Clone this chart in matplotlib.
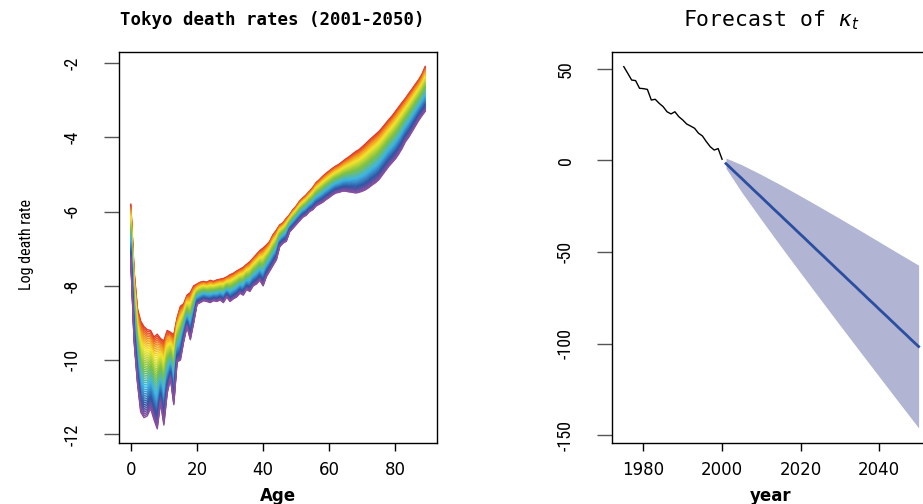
import numpy as np
import matplotlib
matplotlib.use("Agg")
from matplotlib import pyplot as plt
from matplotlib import font_manager
from matplotlib.colors import LinearSegmentedColormap

plt.rcParams["axes.unicode_minus"] = False

# Log death rates: top curve (2001) and bottom curve (2050)
ages = np.arange(0, 90)
rate_2001 = [-5.80, -7.60, -8.60, -8.95, -9.10, -9.18, -9.20, -9.38, -9.30, -9.42,
             -9.48, -9.20, -9.25, -9.32, -8.86, -8.55, -8.48, -8.25, -8.18, -8.00,
             -7.95, -7.90, -7.88, -7.90, -7.85, -7.88, -7.84, -7.82, -7.80, -7.76,
             -7.70, -7.66, -7.60, -7.55, -7.50, -7.42, -7.35, -7.25, -7.15, -7.05,
             -6.98, -6.90, -6.80, -6.62, -6.50, -6.36, -6.30, -6.18, -6.08, -5.95,
             -5.85, -5.72, -5.63, -5.55, -5.45, -5.35, -5.22, -5.14, -5.05, -4.97,
             -4.90, -4.83, -4.77, -4.72, -4.65, -4.58, -4.52, -4.45, -4.38, -4.33,
             -4.25, -4.17, -4.08, -4.00, -3.92, -3.84, -3.74, -3.63, -3.52, -3.42,
             -3.30, -3.18, -3.06, -2.95, -2.82, -2.70, -2.57, -2.45, -2.30, -2.09]
rate_2050 = [-7.30, -9.50, -10.60, -11.40, -11.55, -11.50, -11.30, -11.60, -11.85, -11.15,
             -11.75, -10.90, -10.50, -11.20, -10.05, -10.00, -9.50, -9.10, -9.45, -9.00,
             -8.50, -8.45, -8.40, -8.42, -8.45, -8.40, -8.42, -8.38, -8.45, -8.30,
             -8.42, -8.35, -8.30, -8.20, -8.25, -8.10, -8.15, -8.00, -7.95, -7.85,
             -8.00, -7.75, -7.60, -7.45, -7.30, -6.95, -6.85, -6.80, -6.55, -6.45,
             -6.35, -6.25, -6.15, -6.10, -6.00, -5.95, -5.85, -5.80, -5.75, -5.68,
             -5.62, -5.55, -5.50, -5.48, -5.45, -5.45, -5.47, -5.48, -5.50, -5.48,
             -5.45, -5.41, -5.35, -5.28, -5.22, -5.14, -5.02, -4.90, -4.78, -4.68,
             -4.58, -4.45, -4.30, -4.12, -4.00, -3.85, -3.70, -3.55, -3.42, -3.30]

# Observed kappa_t
hist_years = np.arange(1975, 2001)
hist_kt = [51.1, 47.5, 43.8, 43.5, 39.3, 39.1, 38.7, 32.9, 33.3, 31.1,
           29.3, 26.5, 25.3, 26.5, 23.8, 22.0, 19.8, 18.7, 17.5, 14.8,
           13.3, 10.2, 7.4, 5.6, 6.4, 0.6]

# Forecast kappa_t (point forecast)
fc_years = np.arange(2001, 2051)
fc_kt = [-1.8, -3.8, -5.9, -7.9, -9.9, -12.0, -14.0, -16.1, -18.1, -20.1,
         -22.2, -24.2, -26.3, -28.3, -30.3, -32.4, -34.4, -36.4, -38.5, -40.5,
         -42.5, -44.6, -46.6, -48.7, -50.7, -52.7, -54.8, -56.8, -58.9, -60.9,
         -62.9, -65.0, -67.0, -69.0, -71.1, -73.1, -75.2, -77.2, -79.2, -81.3,
         -83.3, -85.3, -87.4, -89.4, -91.5, -93.5, -95.5, -97.6, -99.6, -101.6]

# Prediction interval
band_years = [2001, 2005, 2010, 2015, 2020, 2025, 2030, 2035, 2040, 2045, 2050]
band_upper = [1.2, -2.4, -7.8, -13.5, -19.5, -25.6, -31.8, -38.1, -44.5, -50.9, -57.2]
band_lower = [-4.4, -17.4, -32.4, -47.1, -61.5, -75.8, -90.0, -104.1, -118.1, -132.1, -146.0]

# Lee-Carter pieces: log m(x,t) = a_x + b_x * k_t
top = np.array(rate_2001)
bot = np.array(rate_2050)
bx = (top - bot) / (fc_kt[0] - fc_kt[-1])
ax_ = top - bx * fc_kt[0]

rainbow = LinearSegmentedColormap.from_list(
    "rb",
    [(0.0, "#E4312B"), (0.12, "#F29A1F"), (0.24, "#F4E52C"), (0.45, "#7CC143"),
     (0.66, "#3CB5E5"), (0.86, "#2F54A3"), (1.0, "#8A4E9F")],
)

# pick a condensed face if one is installed
installed = {f.name for f in font_manager.fontManager.ttflist}
narrow = "DejaVu Sans"
tick_size, label_size = 10, 10
for name in ["Liberation Sans Narrow", "DejaVu Sans Condensed", "Roboto Condensed",
             "Open Sans Condensed", "Roboto"]:
    if name in installed:
        narrow = name
        tick_size, label_size = (13, 11.5) if name != "Roboto" else (11, 11)
        break

fig = plt.figure(figsize=(9.23, 5.04), dpi=100)
W, H = 923, 504


def box(l, t, r, b):
    return [l / W, 1 - b / H, (r - l) / W, (b - t) / H]


def style(ax):
    for s in ax.spines.values():
        s.set_linewidth(1.0)
        s.set_color("black")
    ax.tick_params(axis="x", length=6, width=1, direction="out", pad=7,
                   labelsize=12, color="black")
    ax.tick_params(axis="y", length=11, width=1, direction="out", pad=16,
                   labelsize=tick_size, color="#555555", labelrotation=90)
    for lab in ax.get_yticklabels():
        lab.set_family(narrow)
        lab.set_va("center")


# Left panel: rainbow of forecast death rates
ax1 = fig.add_axes(box(119, 52, 437, 443.3))
n = len(fc_kt)
for i, k in enumerate(fc_kt):
    ax1.plot(ages, ax_ + bx * k, color=rainbow(i / (n - 1)), lw=1.0)
ax1.set_xlim(-3.56, 92.56)
ax1.set_ylim(-12.24, -1.70)
ax1.set_xticks([0, 20, 40, 60, 80])
ax1.set_yticks([-12, -10, -8, -6, -4, -2])
style(ax1)

# Right panel: kappa forecast (extends past the right edge)
ax2 = fig.add_axes(box(612, 52, 930.4, 443.3))
ax2.fill_between(band_years, band_lower, band_upper, color="#B1B4D2", lw=0)
ax2.plot(hist_years, hist_kt, color="black", lw=1.0)
ax2.plot(fc_years, fc_kt, color="#2B4EA0", lw=2.0)
ax2.set_xlim(1972, 2053)
ax2.set_ylim(-154.4, 59.1)
ax2.set_xticks([1980, 2000, 2020, 2040])
ax2.set_yticks([-150, -100, -50, 0, 50])
style(ax2)

# Titles and axis labels
fig.text(272 / W, 1 - 20 / H, "Tokyo death rates (2001-2050)", ha="center",
         va="center", family="DejaVu Sans Mono", weight="bold", fontsize=12.5)
fig.text(771 / W, 1 - 20 / H, r"Forecast of $\kappa_t$", ha="center",
         va="center", family="DejaVu Sans Mono", fontsize=15.5)
fig.text(27 / W, 1 - 245 / H, "Log death rate", rotation=90, ha="center",
         va="center", family=narrow, fontsize=label_size)
fig.text(278 / W, 1 - 496 / H, "Age", ha="center", va="center",
         weight="bold", fontsize=12)
fig.text(771 / W, 1 - 496 / H, "year", ha="center", va="center",
         weight="bold", fontsize=12)

plt.savefig("out.png", dpi=100)
